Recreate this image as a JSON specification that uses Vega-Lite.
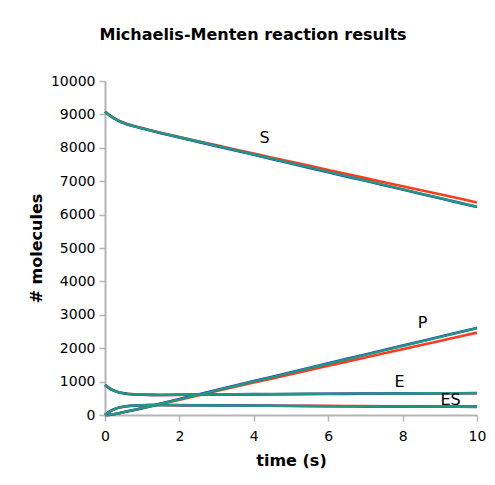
{
  "$schema": "https://vega.github.io/schema/vega-lite/v6.json",
  "width": 372,
  "height": 334,
  "autosize": "none",
  "padding": {"left": 105, "top": 81, "right": 18, "bottom": 70},
  "background": "white",
  "config": {
    "view": {"stroke": null},
    "font": "DejaVu Sans"
  },
  "title": {
    "text": "Michaelis-Menten reaction results",
    "font": "DejaVu Sans",
    "fontSize": 16,
    "fontWeight": "bold",
    "color": "#000000",
    "anchor": "middle",
    "dx": -38,
    "offset": 31
  },
  "datasets": {
    "runs": [
      {"run": "red", "t": 0, "S": 9080, "E": 900, "ES": 0, "P": 0},
      {"run": "red", "t": 0.1, "S": 8995, "E": 820, "ES": 80, "P": 5},
      {"run": "red", "t": 0.2, "S": 8918, "E": 755, "ES": 145, "P": 17},
      {"run": "red", "t": 0.3, "S": 8851, "E": 707, "ES": 193, "P": 36},
      {"run": "red", "t": 0.4, "S": 8796, "E": 674, "ES": 226, "P": 58},
      {"run": "red", "t": 0.6, "S": 8711, "E": 637, "ES": 263, "P": 106},
      {"run": "red", "t": 0.8, "S": 8648, "E": 618, "ES": 282, "P": 150},
      {"run": "red", "t": 1, "S": 8591, "E": 609, "ES": 291, "P": 198},
      {"run": "red", "t": 1.25, "S": 8521, "E": 603, "ES": 297, "P": 262},
      {"run": "red", "t": 1.5, "S": 8453, "E": 600, "ES": 300, "P": 327},
      {"run": "red", "t": 2, "S": 8325, "E": 603, "ES": 297, "P": 458},
      {"run": "red", "t": 2.5, "S": 8198, "E": 606, "ES": 294, "P": 588},
      {"run": "red", "t": 3, "S": 8074, "E": 610, "ES": 290, "P": 716},
      {"run": "red", "t": 3.5, "S": 7951, "E": 614, "ES": 286, "P": 843},
      {"run": "red", "t": 4, "S": 7826, "E": 616, "ES": 284, "P": 970},
      {"run": "red", "t": 4.5, "S": 7704, "E": 621, "ES": 279, "P": 1097},
      {"run": "red", "t": 5, "S": 7580, "E": 622, "ES": 278, "P": 1222},
      {"run": "red", "t": 5.5, "S": 7459, "E": 627, "ES": 273, "P": 1348},
      {"run": "red", "t": 6, "S": 7335, "E": 628, "ES": 272, "P": 1473},
      {"run": "red", "t": 6.5, "S": 7214, "E": 632, "ES": 268, "P": 1598},
      {"run": "red", "t": 7, "S": 7092, "E": 634, "ES": 266, "P": 1722},
      {"run": "red", "t": 7.5, "S": 6971, "E": 638, "ES": 262, "P": 1847},
      {"run": "red", "t": 8, "S": 6850, "E": 640, "ES": 260, "P": 1970},
      {"run": "red", "t": 8.5, "S": 6730, "E": 644, "ES": 256, "P": 2094},
      {"run": "red", "t": 9, "S": 6607, "E": 645, "ES": 255, "P": 2218},
      {"run": "red", "t": 9.5, "S": 6487, "E": 649, "ES": 251, "P": 2342},
      {"run": "red", "t": 10, "S": 6364, "E": 650, "ES": 250, "P": 2466},
      {"run": "blue", "t": 0, "S": 9080, "E": 900, "ES": 0, "P": 0},
      {"run": "blue", "t": 0.1, "S": 8988, "E": 812, "ES": 88, "P": 4},
      {"run": "blue", "t": 0.2, "S": 8910, "E": 747, "ES": 153, "P": 17},
      {"run": "blue", "t": 0.3, "S": 8842, "E": 701, "ES": 199, "P": 39},
      {"run": "blue", "t": 0.4, "S": 8786, "E": 668, "ES": 232, "P": 62},
      {"run": "blue", "t": 0.6, "S": 8700, "E": 632, "ES": 268, "P": 112},
      {"run": "blue", "t": 0.8, "S": 8636, "E": 614, "ES": 286, "P": 158},
      {"run": "blue", "t": 1, "S": 8578, "E": 606, "ES": 294, "P": 208},
      {"run": "blue", "t": 1.25, "S": 8508, "E": 603, "ES": 297, "P": 275},
      {"run": "blue", "t": 1.5, "S": 8438, "E": 601, "ES": 299, "P": 343},
      {"run": "blue", "t": 2, "S": 8309, "E": 607, "ES": 293, "P": 478},
      {"run": "blue", "t": 2.5, "S": 8177, "E": 609, "ES": 291, "P": 612},
      {"run": "blue", "t": 3, "S": 8050, "E": 616, "ES": 284, "P": 746},
      {"run": "blue", "t": 3.5, "S": 7917, "E": 617, "ES": 283, "P": 880},
      {"run": "blue", "t": 4, "S": 7789, "E": 624, "ES": 276, "P": 1015},
      {"run": "blue", "t": 4.5, "S": 7655, "E": 623, "ES": 277, "P": 1148},
      {"run": "blue", "t": 5, "S": 7528, "E": 630, "ES": 270, "P": 1282},
      {"run": "blue", "t": 5.5, "S": 7396, "E": 631, "ES": 269, "P": 1415},
      {"run": "blue", "t": 6, "S": 7269, "E": 637, "ES": 263, "P": 1548},
      {"run": "blue", "t": 6.5, "S": 7137, "E": 637, "ES": 263, "P": 1680},
      {"run": "blue", "t": 7, "S": 7011, "E": 643, "ES": 257, "P": 1812},
      {"run": "blue", "t": 7.5, "S": 6878, "E": 642, "ES": 258, "P": 1944},
      {"run": "blue", "t": 8, "S": 6751, "E": 648, "ES": 252, "P": 2077},
      {"run": "blue", "t": 8.5, "S": 6618, "E": 647, "ES": 253, "P": 2209},
      {"run": "blue", "t": 9, "S": 6491, "E": 652, "ES": 248, "P": 2341},
      {"run": "blue", "t": 9.5, "S": 6358, "E": 652, "ES": 248, "P": 2474},
      {"run": "blue", "t": 10, "S": 6230, "E": 657, "ES": 243, "P": 2607},
      {"run": "green", "t": 0, "S": 9080, "E": 900, "ES": 0, "P": 0},
      {"run": "green", "t": 0.1, "S": 8991, "E": 816, "ES": 84, "P": 5},
      {"run": "green", "t": 0.2, "S": 8913, "E": 752, "ES": 149, "P": 18},
      {"run": "green", "t": 0.3, "S": 8846, "E": 703, "ES": 196, "P": 38},
      {"run": "green", "t": 0.4, "S": 8791, "E": 672, "ES": 229, "P": 60},
      {"run": "green", "t": 0.6, "S": 8704, "E": 633, "ES": 266, "P": 110},
      {"run": "green", "t": 0.8, "S": 8641, "E": 616, "ES": 284, "P": 155},
      {"run": "green", "t": 1, "S": 8584, "E": 609, "ES": 292, "P": 204},
      {"run": "green", "t": 1.25, "S": 8511, "E": 600, "ES": 299, "P": 270},
      {"run": "green", "t": 1.5, "S": 8446, "E": 604, "ES": 297, "P": 337},
      {"run": "green", "t": 2, "S": 8315, "E": 606, "ES": 295, "P": 470},
      {"run": "green", "t": 2.5, "S": 8188, "E": 612, "ES": 289, "P": 603},
      {"run": "green", "t": 3, "S": 8058, "E": 613, "ES": 286, "P": 736},
      {"run": "green", "t": 3.5, "S": 7930, "E": 620, "ES": 281, "P": 869},
      {"run": "green", "t": 4, "S": 7799, "E": 622, "ES": 279, "P": 1002},
      {"run": "green", "t": 4.5, "S": 7671, "E": 627, "ES": 274, "P": 1135},
      {"run": "green", "t": 5, "S": 7539, "E": 627, "ES": 273, "P": 1268},
      {"run": "green", "t": 5.5, "S": 7412, "E": 634, "ES": 267, "P": 1401},
      {"run": "green", "t": 6, "S": 7280, "E": 633, "ES": 266, "P": 1534},
      {"run": "green", "t": 6.5, "S": 7152, "E": 640, "ES": 261, "P": 1667},
      {"run": "green", "t": 7, "S": 7020, "E": 640, "ES": 260, "P": 1800},
      {"run": "green", "t": 7.5, "S": 6891, "E": 645, "ES": 256, "P": 1933},
      {"run": "green", "t": 8, "S": 6759, "E": 644, "ES": 255, "P": 2066},
      {"run": "green", "t": 8.5, "S": 6630, "E": 650, "ES": 251, "P": 2199},
      {"run": "green", "t": 9, "S": 6498, "E": 650, "ES": 250, "P": 2332},
      {"run": "green", "t": 9.5, "S": 6369, "E": 655, "ES": 246, "P": 2465},
      {"run": "green", "t": 10, "S": 6236, "E": 654, "ES": 246, "P": 2598}
    ],
    "labels": [
      {"t": 4.29, "y": 8290, "label": "S"},
      {"t": 8.54, "y": 2750, "label": "P"},
      {"t": 7.92, "y": 990, "label": "E"},
      {"t": 9.29, "y": 450, "label": "ES"}
    ]
  },
  "encoding": {
    "x": {
      "field": "t",
      "type": "quantitative",
      "scale": {"domain": [0, 10], "nice": false, "zero": false},
      "axis": {
        "title": "time (s)",
        "values": [0, 2, 4, 6, 8, 10],
        "grid": false,
        "domainColor": "#b4b4b4",
        "domainWidth": 2,
        "tickColor": "#b4b4b4",
        "tickWidth": 1.5,
        "tickSize": 6,
        "labelFont": "DejaVu Sans",
        "labelFontSize": 14,
        "labelColor": "#000000",
        "labelPadding": 8,
        "labelFlush": false,
        "titleFont": "DejaVu Sans",
        "titleFontSize": 16,
        "titleFontWeight": "bold",
        "titleColor": "#000000",
        "titlePadding": 9
      }
    },
    "y": {
      "field": "value",
      "type": "quantitative",
      "scale": {"domain": [0, 10000], "nice": false},
      "axis": {
        "title": "# molecules",
        "format": "d",
        "values": [0, 1000, 2000, 3000, 4000, 5000, 6000, 7000, 8000, 9000, 10000],
        "grid": false,
        "domainColor": "#b4b4b4",
        "domainWidth": 2,
        "tickColor": "#b4b4b4",
        "tickWidth": 1.5,
        "tickSize": 6,
        "labelFont": "DejaVu Sans",
        "labelFontSize": 14,
        "labelColor": "#000000",
        "labelPadding": 4,
        "labelFlush": false,
        "titleFont": "DejaVu Sans",
        "titleFontSize": 16,
        "titleFontWeight": "bold",
        "titleColor": "#000000",
        "titlePadding": 6
      }
    }
  },
  "layer": [
    {
      "data": {"name": "runs"},
      "transform": [
        {"filter": "datum.run === 'red'"},
        {"fold": ["S", "E", "ES", "P"], "as": ["species", "value"]}
      ],
      "mark": {"type": "line", "color": "#ff3a1e", "strokeWidth": 2.6},
      "encoding": {"detail": {"field": "species", "type": "nominal"}}
    },
    {
      "data": {"name": "runs"},
      "transform": [
        {"filter": "datum.run === 'blue'"},
        {"fold": ["S", "E", "ES", "P"], "as": ["species", "value"]}
      ],
      "mark": {"type": "line", "color": "#2f2fe8", "strokeWidth": 2.6},
      "encoding": {"detail": {"field": "species", "type": "nominal"}}
    },
    {
      "data": {"name": "runs"},
      "transform": [
        {"filter": "datum.run === 'green'"},
        {"fold": ["S", "E", "ES", "P"], "as": ["species", "value"]}
      ],
      "mark": {"type": "line", "color": "#1f9a7c", "strokeWidth": 2.4},
      "encoding": {"detail": {"field": "species", "type": "nominal"}}
    },
    {
      "data": {"name": "labels"},
      "mark": {"type": "text", "font": "DejaVu Sans", "fontSize": 16, "color": "#000000", "align": "center", "baseline": "middle"},
      "encoding": {
        "y": {"field": "y", "type": "quantitative"},
        "text": {"field": "label"}
      }
    }
  ]
}
